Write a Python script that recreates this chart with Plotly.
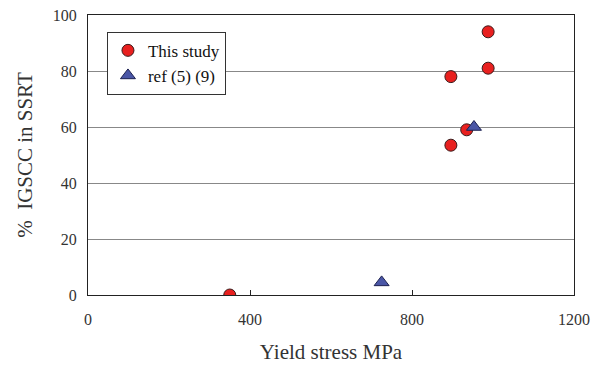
import plotly.graph_objects as go

# Yield stress (MPa) vs. % IGSCC in SSRT
study_stress = [350, 896, 896, 935, 988, 988]
study_igscc = [0, 53.5, 78, 59, 81, 94]

ref_stress = [725, 953]
ref_igscc = [4.5, 60]

x_ticks = [0, 400, 800, 1200]
y_ticks = [0, 20, 40, 60, 80, 100]

FONT = "Liberation Serif"

fig = go.Figure()
fig.add_trace(go.Scatter(
    x=study_stress, y=study_igscc, mode="markers", name="This study",
    marker=dict(symbol="circle", size=12, color="#e8201f",
                line=dict(color="#3a1a1a", width=1)),
))
fig.add_trace(go.Scatter(
    x=ref_stress, y=ref_igscc, mode="markers", name="ref (5) (9)",
    marker=dict(symbol="triangle-up", size=13, color="#4a56a6",
                line=dict(color="#1c2050", width=1)),
))

fig.update_layout(
    width=602, height=367,
    margin=dict(l=88, r=28, t=15, b=72),
    paper_bgcolor="white", plot_bgcolor="white",
    font=dict(family=FONT, size=16, color="#222"),
    showlegend=True,
    legend=dict(
        x=0.039, y=0.94, xanchor="left", yanchor="top",
        bgcolor="white", bordercolor="#333", borderwidth=1,
        font=dict(family=FONT, size=17, color="#111"),
        itemwidth=30, tracegroupgap=0,
    ),
    xaxis=dict(
        range=[0, 1200], tickvals=x_ticks, ticktext=[str(v) for v in x_ticks],
        showgrid=False, zeroline=False, automargin=False,
        showline=True, linecolor="#222", linewidth=1, mirror=True,
        ticks="inside", ticklen=5, tickcolor="#222",
        ticklabelstandoff=10,
        tickfont=dict(family=FONT, size=16, color="#333"),
        title=dict(text="Yield stress MPa", font=dict(family=FONT, size=21, color="#333"),
                   standoff=17),
    ),
    yaxis=dict(
        range=[0, 100], tickvals=y_ticks, ticktext=[str(v) for v in y_ticks],
        showgrid=True, gridcolor="#888", gridwidth=1, zeroline=False, automargin=False,
        showline=True, linecolor="#222", linewidth=1, mirror=True,
        ticks="", ticklabelstandoff=7,
        tickfont=dict(family=FONT, size=16, color="#333"),
        title=dict(text="%  IGSCC in SSRT", font=dict(family=FONT, size=21, color="#333"),
                   standoff=14),
    ),
)

fig.write_html("out.html")
